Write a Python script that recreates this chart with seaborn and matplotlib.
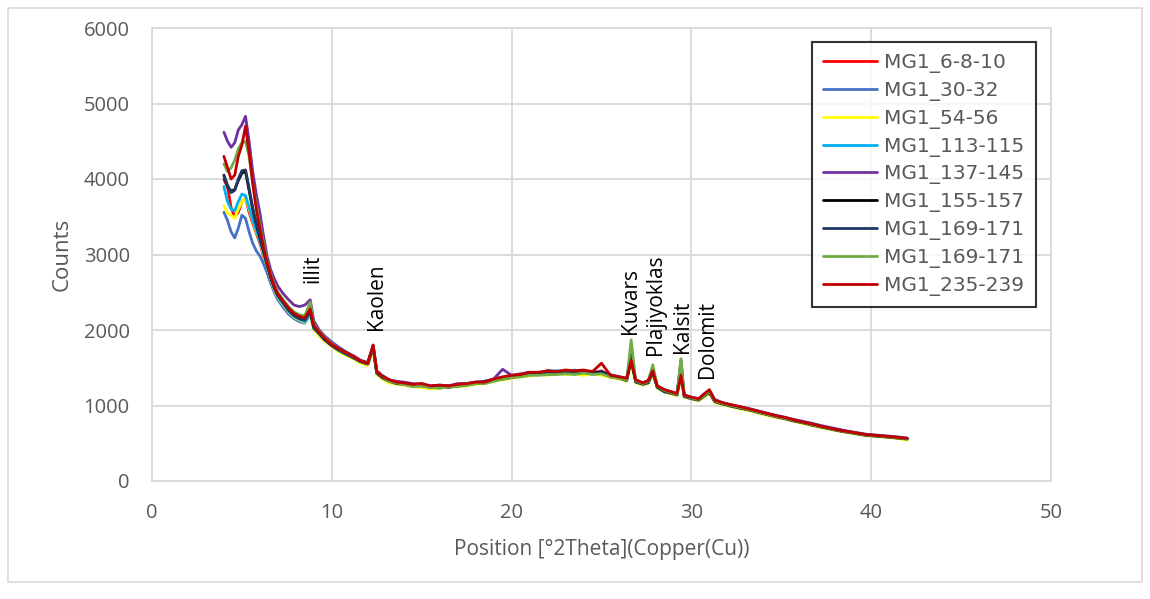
import numpy as np
import pandas as pd
import matplotlib
matplotlib.use("Agg")
import matplotlib.pyplot as plt
import seaborn as sns
from matplotlib.patches import Rectangle

# ---------------- data ----------------
two_theta = [4.0, 4.2, 4.4, 4.6, 4.8, 5.0, 5.2, 5.4, 5.6, 5.8,
             6.0, 6.2, 6.4, 6.6, 6.8, 7.0, 7.3, 7.6, 7.9, 8.2,
             8.5, 8.8, 9.0, 9.3, 9.6, 10.0, 10.4, 10.8, 11.2, 11.6,
             12.0, 12.3, 12.5, 12.8, 13.2, 13.6, 14.0, 14.5, 15.0, 15.5,
             16.0, 16.5, 17.0, 17.5, 18.0, 18.5, 19.0, 19.5, 20.0, 20.5,
             21.0, 21.5, 22.0, 22.5, 23.0, 23.5, 24.0, 24.5, 25.0, 25.5,
             26.0, 26.4, 26.65, 26.9, 27.3, 27.6, 27.85, 28.1, 28.5, 28.9,
             29.2, 29.42, 29.6, 30.0, 30.4, 30.8, 31.0, 31.3, 31.7, 32.2,
             32.7, 33.2, 33.7, 34.2, 34.7, 35.2, 35.7, 36.2, 36.7, 37.2,
             37.7, 38.2, 38.7, 39.2, 39.7, 40.2, 40.7, 41.2, 41.6, 42.0]

series_names = ["MG1_6-8-10", "MG1_30-32", "MG1_54-56", "MG1_113-115",
                "MG1_137-145", "MG1_155-157", "MG1_169-171", "MG1_169-171",
                "MG1_235-239"]

mg1_6_8_10 = [3990, 3900, 3620, 3500, 3560, 3700, 3745, 3560, 3420, 3280, 3150, 2980, 2830, 2680, 2540, 2450,
              2360, 2260, 2200, 2170, 2150, 2250, 2040, 1960, 1890,
              1810, 1740, 1690, 1650, 1590, 1560, 1780, 1440, 1380, 1330, 1310,
              1300, 1270, 1290, 1250, 1260, 1240, 1280, 1270, 1310, 1300, 1340, 1370,
              1390, 1400, 1430, 1420, 1450, 1430, 1460, 1440, 1450, 1420, 1460, 1390,
              1370, 1350, 1600, 1330, 1290, 1320, 1460, 1250, 1200, 1170, 1150, 1400, 1130,
              1100, 1080, 1160, 1190, 1060, 1030, 1000, 975, 945, 915, 885, 860, 835, 800, 775, 745, 720, 695, 675, 650, 635, 610, 600, 590, 580, 570, 560]

mg1_30_32 = [3560, 3450, 3300, 3220, 3350, 3520, 3480, 3300, 3150, 3050, 2980, 2880, 2760, 2620, 2500, 2400,
             2300, 2210, 2150, 2110, 2090, 2200, 2010, 1930, 1860,
             1790, 1720, 1670, 1630, 1570, 1540, 1740, 1420, 1360, 1310, 1290,
             1280, 1260, 1250, 1240, 1230, 1250, 1260, 1280, 1290, 1310, 1330, 1350,
             1370, 1390, 1410, 1430, 1420, 1440, 1430, 1450, 1420, 1430, 1410, 1380,
             1360, 1330, 1580, 1310, 1280, 1300, 1430, 1240, 1190, 1160, 1140, 1380, 1120,
             1090, 1070, 1140, 1170, 1050, 1020, 995, 965, 940, 905, 880, 850, 825, 795, 770, 740, 715, 690, 665, 645, 625, 605, 595, 585, 575, 565, 555]

mg1_54_56 = [3650, 3550, 3520, 3480, 3600, 3700, 3740, 3600, 3450, 3300, 3180, 3000, 2840, 2680, 2530, 2430,
             2330, 2240, 2170, 2130, 2100, 2220, 2000, 1920, 1850,
             1780, 1710, 1660, 1620, 1560, 1530, 1730, 1410, 1350, 1300, 1280,
             1270, 1250, 1240, 1220, 1230, 1240, 1250, 1260, 1280, 1290, 1320, 1340,
             1360, 1380, 1390, 1410, 1400, 1420, 1410, 1420, 1400, 1420, 1400, 1370,
             1350, 1320, 1560, 1300, 1270, 1290, 1420, 1230, 1180, 1150, 1130, 1360, 1110,
             1090, 1060, 1130, 1160, 1040, 1010, 985, 955, 930, 900, 870, 840, 820, 790, 760, 735, 705, 685, 660, 640, 620, 600, 590, 580, 570, 560, 540]

mg1_113_115 = [3900, 3700, 3600, 3580, 3700, 3800, 3780, 3620, 3460, 3320, 3180, 3020, 2850, 2690, 2550, 2440,
               2340, 2250, 2180, 2140, 2110, 2230, 2020, 1950, 1870,
               1800, 1730, 1680, 1640, 1580, 1550, 1760, 1430, 1370, 1320, 1300,
               1290, 1260, 1270, 1250, 1250, 1260, 1270, 1290, 1300, 1320, 1350, 1370,
               1390, 1410, 1420, 1440, 1450, 1460, 1450, 1470, 1440, 1450, 1430, 1390,
               1370, 1340, 1590, 1320, 1290, 1310, 1450, 1250, 1200, 1170, 1150, 1390, 1130,
               1100, 1080, 1150, 1180, 1060, 1030, 1000, 975, 945, 915, 890, 860, 835, 805, 780, 750, 725, 700, 675, 655, 635, 615, 605, 595, 585, 575, 565]

mg1_137_145 = [4620, 4500, 4420, 4480, 4650, 4720, 4830, 4500, 4100, 3800, 3550, 3250, 2980, 2800, 2680, 2580,
               2480, 2400, 2330, 2310, 2330, 2400, 2120, 2000, 1920,
               1840, 1770, 1710, 1660, 1600, 1570, 1800, 1460, 1400, 1340, 1320,
               1310, 1290, 1280, 1260, 1270, 1260, 1290, 1290, 1310, 1320, 1350, 1480,
               1400, 1420, 1440, 1430, 1460, 1450, 1460, 1450, 1460, 1440, 1450, 1410,
               1380, 1360, 1620, 1340, 1300, 1330, 1480, 1260, 1210, 1180, 1160, 1410, 1140,
               1110, 1090, 1170, 1200, 1080, 1040, 1010, 985, 960, 930, 900, 870, 845, 815, 790, 765, 735, 710, 685, 660, 640, 620, 610, 600, 590, 580, 570]

mg1_155_157 = [4050, 3900, 3840, 3860, 3980, 4080, 4100, 3850, 3600, 3400, 3220, 3050, 2870, 2700, 2560, 2460,
               2370, 2270, 2200, 2160, 2140, 2260, 2040, 1960, 1880,
               1800, 1740, 1690, 1640, 1590, 1560, 1780, 1440, 1380, 1330, 1300,
               1290, 1270, 1270, 1250, 1260, 1250, 1270, 1280, 1300, 1310, 1340, 1360,
               1380, 1400, 1420, 1420, 1440, 1440, 1450, 1440, 1450, 1430, 1440, 1390,
               1370, 1340, 1620, 1320, 1290, 1310, 1450, 1250, 1190, 1170, 1150, 1560, 1130,
               1100, 1080, 1150, 1180, 1060, 1030, 1000, 970, 945, 915, 885, 855, 830, 800, 775, 745, 720, 695, 670, 650, 630, 610, 600, 590, 580, 570, 560]

mg1_169_171_navy = [4040, 3920, 3820, 3850, 4000, 4110, 4120, 3880, 3620, 3420, 3240, 3060, 2880, 2710, 2560, 2460,
                    2360, 2260, 2190, 2150, 2130, 2250, 2030, 1950, 1870,
                    1790, 1730, 1680, 1630, 1580, 1550, 1770, 1430, 1370, 1320, 1290,
                    1280, 1260, 1260, 1240, 1250, 1240, 1260, 1270, 1290, 1300, 1330, 1350,
                    1370, 1390, 1410, 1420, 1430, 1430, 1440, 1430, 1440, 1420, 1430, 1380,
                    1360, 1330, 1700, 1310, 1280, 1300, 1440, 1240, 1180, 1160, 1140, 1600, 1120,
                    1090, 1070, 1140, 1170, 1050, 1020, 990, 965, 940, 910, 880, 850, 825, 795, 770, 740, 715, 690, 665, 645, 625, 605, 595, 585, 575, 565, 555]

mg1_169_171_green = [4200, 4100, 4150, 4250, 4400, 4480, 4500, 4300, 3950, 3650, 3400, 3150, 2920, 2740, 2600, 2500,
                     2400, 2310, 2240, 2200, 2190, 2370, 2080, 1980, 1900,
                     1820, 1750, 1700, 1650, 1590, 1560, 1790, 1450, 1390, 1320, 1300,
                     1280, 1250, 1260, 1240, 1230, 1250, 1250, 1270, 1290, 1290, 1320, 1350,
                     1370, 1380, 1400, 1400, 1410, 1410, 1420, 1410, 1430, 1410, 1420, 1380,
                     1360, 1340, 1870, 1330, 1290, 1320, 1540, 1260, 1200, 1170, 1150, 1620, 1140,
                     1100, 1080, 1150, 1190, 1060, 1030, 1000, 975, 945, 915, 885, 855, 830, 805, 775, 745, 720, 695, 670, 650, 630, 610, 600, 590, 580, 570, 560]

mg1_235_239 = [4300, 4150, 4000, 4050, 4300, 4450, 4700, 4350, 3950, 3600, 3350, 3100, 2900, 2720, 2580, 2480,
               2380, 2290, 2220, 2180, 2160, 2280, 2060, 1970, 1890,
               1810, 1750, 1700, 1650, 1590, 1560, 1800, 1450, 1390, 1340, 1310,
               1300, 1280, 1290, 1260, 1270, 1260, 1280, 1290, 1310, 1310, 1350, 1380,
               1400, 1410, 1440, 1440, 1460, 1450, 1470, 1460, 1470, 1450, 1560, 1400,
               1380, 1360, 1600, 1340, 1300, 1330, 1460, 1260, 1210, 1180, 1160, 1400, 1140,
               1110, 1090, 1170, 1210, 1070, 1040, 1010, 985, 955, 925, 895, 865, 840, 810, 780, 755, 725, 700, 675, 655, 635, 615, 605, 595, 585, 575, 565]

series_values = [mg1_6_8_10, mg1_30_32, mg1_54_56, mg1_113_115, mg1_137_145,
                 mg1_155_157, mg1_169_171_navy, mg1_169_171_green, mg1_235_239]

peak_labels = ["illit", "Kaolen", "Kuvars", "Plajiyoklas", "Kalsit", "Dolomit"]

x_ticks = [0, 10, 20, 30, 40, 50]
y_ticks = [0, 1000, 2000, 3000, 4000, 5000, 6000]

# ---------------- style ----------------
colors = ["#FF0000", "#4472C4", "#FFFF00", "#00B0F0", "#7030A0",
          "#000000", "#203864", "#70AD47", "#C00000"]

sns.set_theme(style="white")
plt.rcParams['font.family'] = ['Open Sans', 'DejaVu Sans']

fig = plt.figure(figsize=(11.5, 5.99), dpi=100)
ax = fig.add_axes([152 / 1150, 1 - 481 / 599, (1051 - 152) / 1150, (481 - 28) / 599])

for i, (name, vals) in enumerate(zip(series_names, series_values)):
    df = pd.DataFrame({"x": two_theta, "y": vals})
    sns.lineplot(data=df, x="x", y="y", ax=ax, color=colors[i], lw=2.0,
                 label=name, estimator=None, sort=False)

ax.set_xlim(0, 50)
ax.set_ylim(0, 6000)
ax.set_xticks(x_ticks)
ax.set_yticks(y_ticks)
ax.grid(True, color="#D9D9D9", lw=1.3)
ax.set_axisbelow(True)
for s in ax.spines.values():
    s.set_color("#D9D9D9")
    s.set_linewidth(1.3)
ax.tick_params(axis="both", length=0, labelsize=14.5, labelcolor="#595959")
ax.tick_params(axis="y", pad=16)
ax.tick_params(axis="x", pad=16)
ax.set_xlabel("Position [°2Theta](Copper(Cu))", fontsize=15, color="#595959", labelpad=11)
ax.set_ylabel("Counts", fontsize=16, color="#595959", labelpad=8)

# peak annotations (rotated)
peak_pos = [(8.95, 2620), (12.46, 2000), (26.6, 1950), (28.0, 1670), (29.5, 1700), (30.87, 1370)]
for lab, (px, py) in zip(peak_labels, peak_pos):
    ax.text(px, py, lab, rotation=90, ha="center", va="bottom", fontsize=15, color="black")

leg = ax.legend(loc="upper left", bbox_to_anchor=(812 / 1150, 1 - 42 / 599),
                bbox_transform=fig.transFigure, frameon=True, fancybox=False,
                prop={"family": "DejaVu Sans", "size": 14.5},
                handlelength=2.7, borderpad=0.55, labelspacing=0.39,
                handletextpad=0.35, borderaxespad=0)
leg.get_frame().set_edgecolor("black")
leg.get_frame().set_linewidth(1.5)
for t in leg.get_texts():
    t.set_color("#595959")
for h in leg.get_lines():
    h.set_linewidth(2.0)

fig.patches.append(Rectangle((8 / 1150, 1 - 582 / 599), (1142 - 8) / 1150, (582 - 8) / 599,
                             transform=fig.transFigure, fill=False, edgecolor="#D9D9D9", lw=1.2))

fig.savefig("out.png", dpi=100)
